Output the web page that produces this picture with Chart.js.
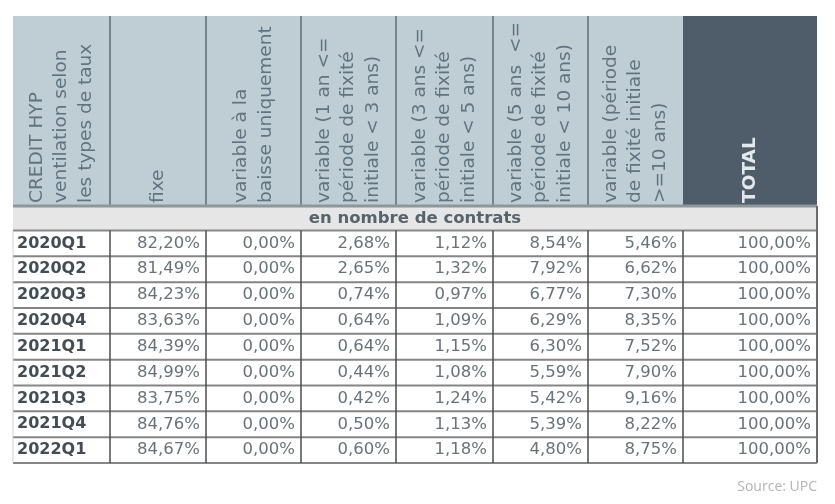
<!DOCTYPE html>
<html>
<head>
<meta charset="utf-8">
<script src="https://cdn.jsdelivr.net/npm/chart.js@4"></script>
<style>
  html, body { margin: 0; background: #fff; }
  #wrap { width: 835px; height: 504px; position: relative; }
</style>
</head>
<body>
<div id="wrap"><canvas id="chart"></canvas></div>
<script>
// Column headers (each entry = lines of the rotated header text)
const headers = [
  ['CREDIT HYP', 'ventilation selon', 'les types de taux'],
  ['fixe'],
  ['variable à la', 'baisse uniquement'],
  ['variable (1 an <=', 'période de fixité', 'initiale < 3 ans)'],
  ['variable (3 ans <=', 'période de fixité', 'initiale < 5 ans)'],
  ['variable (5 ans  <=', 'période de fixité', 'initiale < 10 ans)'],
  ['variable (période', 'de fixité initiale', '>=10 ans)'],
  ['TOTAL']
];
const bandLabel = 'en nombre de contrats';
const sourceLabel = 'Source: UPC';

const quarters = ['2020Q1', '2020Q2', '2020Q3', '2020Q4', '2021Q1', '2021Q2', '2021Q3', '2021Q4', '2022Q1'];
const fixe    = [82.20, 81.49, 84.23, 83.63, 84.39, 84.99, 83.75, 84.76, 84.67];
const baisse  = [0.00, 0.00, 0.00, 0.00, 0.00, 0.00, 0.00, 0.00, 0.00];
const var1a3  = [2.68, 2.65, 0.74, 0.64, 0.64, 0.44, 0.42, 0.50, 0.60];
const var3a5  = [1.12, 1.32, 0.97, 1.09, 1.15, 1.08, 1.24, 1.13, 1.18];
const var5a10 = [8.54, 7.92, 6.77, 6.29, 6.30, 5.59, 5.42, 5.39, 4.80];
const var10   = [5.46, 6.62, 7.30, 8.35, 7.52, 7.90, 9.16, 8.22, 8.75];
const total   = [100.00, 100.00, 100.00, 100.00, 100.00, 100.00, 100.00, 100.00, 100.00];

const series = [fixe, baisse, var1a3, var3a5, var5a10, var10, total];

// layout (in scale units)
const colWidths = [97, 96, 95, 95, 97, 95, 95, 134];
const colEdges = colWidths.reduce((acc, w) => { acc.push(acc[acc.length - 1] + w); return acc; }, [0]);
const headerRows = 7.35;
const bandRows = 0.95;
const rowTop = r => headerRows + bandRows + r;
const FONT = '"DejaVu Sans", Verdana, sans-serif';

const fmt = v => v.toFixed(2).replace('.', ',') + '%';

const line = (ctx, x0, y0, x1, y1, color, w) => {
  ctx.beginPath();
  ctx.strokeStyle = color;
  ctx.lineWidth = w;
  ctx.moveTo(x0, y0);
  ctx.lineTo(x1, y1);
  ctx.stroke();
};

const tablePlugin = {
  id: 'table',
  afterDraw(chart) {
    const { ctx, scales: { x, y } } = chart;
    const X = u => x.getPixelForValue(u);
    const Y = u => y.getPixelForValue(u);
    const left = X(0), right = X(colEdges[colEdges.length - 1]);
    const top = Y(0), headBottom = Y(headerRows), bandBottom = Y(headerRows + bandRows);
    const bottom = Y(rowTop(quarters.length));
    ctx.save();

    // header backgrounds
    headers.forEach((_, c) => {
      const x0 = X(colEdges[c]), x1 = X(colEdges[c + 1]);
      ctx.fillStyle = c === headers.length - 1 ? '#4e5d69' : '#bfcdd4';
      ctx.fillRect(x0, top, x1 - x0, headBottom - top);
    });
    // band
    ctx.fillStyle = '#e6e6e6';
    ctx.fillRect(left, headBottom, right - left, bandBottom - headBottom);

    // header separators
    for (let c = 1; c < headers.length - 1; c++) {
      line(ctx, X(colEdges[c]), top, X(colEdges[c]), headBottom, '#74858e', 2);
    }
    line(ctx, left, headBottom, right, headBottom, '#8c969b', 3);
    line(ctx, left, bandBottom, right, bandBottom, '#888', 2);

    // row lines
    quarters.forEach((_, r) => {
      const yy = Y(rowTop(r + 1));
      line(ctx, left, yy, right, yy, '#858585', 2);
    });
    for (let c = 1; c < headers.length; c++) {
      line(ctx, X(colEdges[c]), bandBottom, X(colEdges[c]), bottom, '#4d4d4d', 1.5);
    }
    line(ctx, right, headBottom, right, bottom, '#6a6a6a', 2);
    line(ctx, left, bandBottom, left, bottom, '#d0d0d0', 1);

    // header text (rotated)
    headers.forEach((lines, c) => {
      const cx = (X(colEdges[c]) + X(colEdges[c + 1])) / 2;
      const isTotal = c === headers.length - 1;
      ctx.font = (isTotal ? 'bold ' : '') + '18.5px ' + FONT;
      ctx.fillStyle = isTotal ? '#e3e8ec' : '#607480';
      ctx.textAlign = 'left';
      ctx.textBaseline = 'middle';
      lines.forEach((txt, i) => {
        const lx = cx + (i - (lines.length - 1) / 2) * 24.5;
        ctx.save();
        ctx.translate(lx, headBottom - 3);
        ctx.rotate(-Math.PI / 2);
        ctx.fillText(txt, 0, 0);
        ctx.restore();
      });
    });

    // band label
    ctx.font = 'bold 16.5px ' + FONT;
    ctx.fillStyle = '#56646e';
    ctx.textAlign = 'center';
    ctx.textBaseline = 'middle';
    ctx.fillText(bandLabel, (left + right) / 2, (headBottom + bandBottom) / 2 + 1);

    // rows
    quarters.forEach((q, r) => {
      const cy = Y(rowTop(r) + 0.5);
      ctx.font = 'bold 16px ' + FONT;
      ctx.fillStyle = '#424d55';
      ctx.textAlign = 'left';
      ctx.fillText(q, left + 4, cy);
      ctx.font = '16.5px ' + FONT;
      ctx.fillStyle = '#67737b';
      ctx.textAlign = 'right';
      series.forEach((vals, s) => {
        ctx.fillText(fmt(vals[r]), X(colEdges[s + 2]) - 6, cy);
      });
    });

    // source
    ctx.font = '14px "Open Sans", sans-serif';
    ctx.fillStyle = '#b4b4b4';
    ctx.textAlign = 'right';
    ctx.fillText(sourceLabel, right, bottom + 24);
    ctx.restore();
  }
};

const ctx = document.getElementById('chart').getContext('2d');
new Chart(ctx, {
  type: 'scatter',
  data: {
    datasets: series.map((vals, s) => ({
      label: headers[s + 1].join(' '),
      data: vals.map((v, r) => ({ x: (colEdges[s + 1] + colEdges[s + 2]) / 2, y: rowTop(r) + 0.5 })),
      pointRadius: 0
    }))
  },
  options: {
    responsive: true,
    maintainAspectRatio: false,
    animation: false,
    events: [],
    layout: { padding: { left: 13, right: 18, top: 16, bottom: 41 } },
    plugins: { legend: { display: false }, tooltip: { enabled: false } },
    scales: {
      x: { type: 'linear', display: false, min: 0, max: colEdges[colEdges.length - 1] },
      y: { type: 'linear', display: false, reverse: true, min: 0, max: rowTop(quarters.length) }
    }
  },
  plugins: [tablePlugin]
});
</script>
</body>
</html>
